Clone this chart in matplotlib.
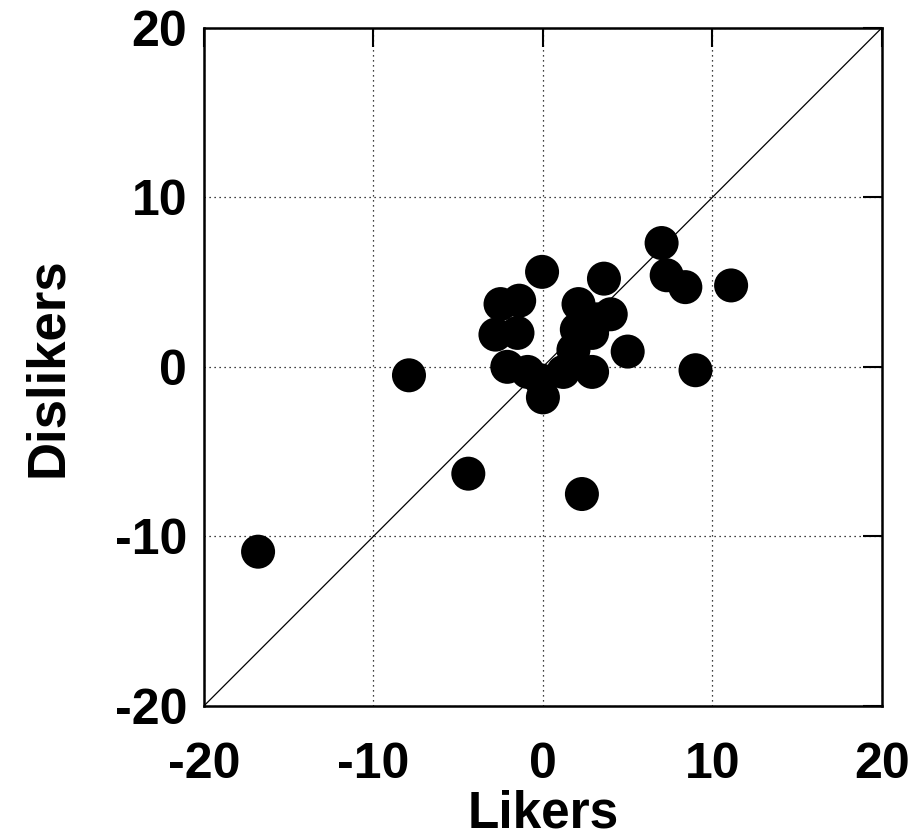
import matplotlib
matplotlib.use('Agg')
import matplotlib.pyplot as plt

# nilai
likers = [-16.8, -7.9, -4.4, 2.3, -0.05, 3.6, 7.0, 7.3, 8.4, 11.1, 9.0, 5.0, 4.0,
          -2.5, -1.4, -2.8, -1.5, -2.1, -0.9, 0.0, -0.1, 1.2, 2.1, 2.0, 2.9, 1.8, 2.9, 3.2]
dislikers = [-10.9, -0.5, -6.3, -7.5, 5.6, 5.2, 7.3, 5.4, 4.7, 4.8, -0.2, 0.9, 3.1,
             3.7, 3.9, 1.9, 2.0, 0.0, -0.3, -1.8, -0.8, -0.3, 3.7, 2.2, 2.0, 1.0, -0.3, 2.8]
ticks = [-20, -10, 0, 10, 20]

plt.rcParams['font.family'] = ['Liberation Sans', 'DejaVu Sans']
plt.rcParams['font.weight'] = 'bold'
plt.rcParams['axes.unicode_minus'] = False

fig = plt.figure(figsize=(9.14, 8.38), dpi=100)
ax = fig.add_axes([0.223, 0.1575, 0.742, 0.8095])

ax.plot([-20, 20], [-20, 20], color='black', linewidth=0.9, zorder=2)
ax.scatter(likers, dislikers, s=600, color='black', edgecolors='none', zorder=3)

ax.set_xlim(-20, 20)
ax.set_ylim(-20, 20)
ax.set_xticks(ticks)
ax.set_yticks(ticks)
ax.grid(True, color='black', linestyle=(0, (1, 3)), linewidth=0.9)

ax.tick_params(axis='both', which='both', direction='in', length=14, width=1.5,
               labelsize=36, bottom=False, left=False, top=True, right=True)
ax.tick_params(axis='x', pad=26)
ax.tick_params(axis='y', pad=12)
for sp in ax.spines.values():
    sp.set_linewidth(1.8)

ax.set_xlabel('Likers', fontsize=37, fontweight='bold', labelpad=1)
ax.set_ylabel('Dislikers', fontsize=38, fontweight='bold', labelpad=30)

fig.savefig('out.png', dpi=100)
